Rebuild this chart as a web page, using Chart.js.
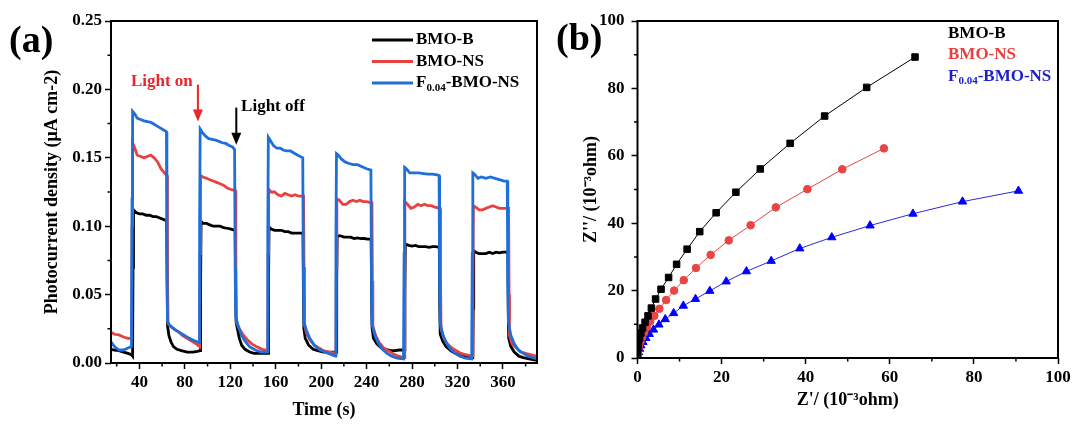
<!DOCTYPE html>
<html>
<head>
<meta charset="utf-8">
<script src="https://cdn.jsdelivr.net/npm/chart.js@4.4.1/dist/chart.umd.min.js"></script>
<style>
  html, body { margin: 0; padding: 0; background: #fff; }
  #wrap { position: relative; width: 1076px; height: 428px; overflow: hidden; }
  #chartA { position: absolute; left: 0; top: 0; }
  #chartB { position: absolute; left: 545px; top: 0; }
  .tag { position: absolute; font: bold 38px "Liberation Serif", "Times New Roman", serif; color: #000; }
</style>
</head>
<body>
<div id="wrap">
  <canvas id="chartA" width="545" height="428"></canvas>
  <canvas id="chartB" width="531" height="428"></canvas>
  <div class="tag" style="left:9px;top:17px">(a)</div>
  <div class="tag" style="left:556px;top:15px">(b)</div>
</div>
<script>
// ---- panel (a) : photocurrent vs time ----
const seriesNames = ['BMO-B', 'BMO-NS', 'F_0.04_-BMO-NS'];

const curveB = [
  [15,.010],[18,.0095],[22,.009],[26,.008],[30,.007],[33,.006],[34,.005],
  [34.4,.07],[34.8,.112],[37,.110],[40,.109],[43,.109],[46,.108],[49,.108],[52,.107],[55,.107],[58,.106],[61,.105],[64,.104],
  [64.4,.06],[64.8,.027],[66,.020],[68,.015],[70,.012],[73,.010],[77,.009],[82,.008],[87,.008],[91,.0085],[93.5,.009],
  [93.9,.06],[94.3,.1035],[96,.102],[99,.102],[102,.101],[105,.100],[108,.100],[111,.100],[114,.099],[117,.0985],[120,.098],[124.3,.097],
  [124.7,.06],[125.1,.030],[126,.026],[128,.018],[130,.013],[133,.010],[137,.008],[141,.007],[146,.007],[153.3,.007],
  [153.7,.06],[154.1,.0995],[156,.098],[159,.097],[162,.097],[165,.097],[168,.096],[171,.096],[174,.095],[177,.095],[180,.095],[184,.095],
  [184.4,.05],[184.8,.025],[186,.018],[189,.013],[193,.010],[197,.009],[202,.008],[207,.008],[213.3,.008],
  [213.7,.06],[214.1,.093],[217,.093],[220,.092],[223,.092],[226,.092],[229,.091],[232,.0915],[235,.091],[238,.091],[241,.0905],[244,.0905],
  [244.4,.05],[244.8,.026],[246,.018],[249,.014],[253,.011],[257,.010],[261,.009],[265,.009],[269,.0095],[273.3,.0095],
  [273.7,.05],[274.1,.087],[277,.086],[280,.0855],[283,.086],[286,.085],[289,.085],[292,.085],[295,.0845],[298,.085],[301,.085],[304,.0845],
  [304.4,.04],[304.8,.021],[307,.016],[310,.012],[314,.009],[318,.007],[322,.006],[327,.005],[333.5,.004],
  [333.9,.04],[334.3,.082],[336,.081],[339,.080],[342,.080],[345,.080],[348,.081],[351,.080],[354,.081],[357,.0805],[360,.081],[364.3,.081],
  [364.7,.04],[365.1,.018],[367,.012],[370,.008],[374,.005],[378,.004],[383,.003],[390,.002]
];

const curveNS = [
  [15,.0225],[18,.021],[22,.0205],[26,.019],[30,.018],[33.2,.018],
  [33.6,.10],[34,.161],[36,.157],[38,.152],[41,.151],[44,.150],[47,.151],[50,.152],[53,.150],[56,.147],[59,.142],[62,.139],[64.3,.137],
  [64.7,.07],[65.2,.029],[67,.027],[70,.025],[74,.023],[78,.020],[82,.018],[86,.016],[90,.014],[93,.012],
  [93.4,.08],[93.8,.137],[96,.136],[99,.135],[102,.134],[105,.133],[108,.132],[111,.131],[114,.130],[117,.128],[120,.127],[124.5,.126],
  [124.9,.07],[125.3,.030],[128,.025],[131,.021],[135,.017],[139,.014],[143,.012],[148,.010],[153,.009],
  [153.4,.08],[153.8,.127],[156,.125],[159,.125],[162,.123],[165,.122],[168,.124],[171,.123],[174,.122],[177,.123],[180,.122],[184.5,.122],
  [184.9,.07],[185.3,.028],[187,.022],[190,.017],[194,.013],[198,.011],[202,.009],[207,.008],[213,.007],
  [213.4,.07],[213.8,.120],[216,.119],[219,.116],[222,.116],[225,.118],[228,.119],[231,.118],[234,.119],[237,.118],[240,.118],[244.7,.117],
  [245.1,.06],[245.5,.027],[248,.020],[251,.015],[255,.011],[259,.009],[263,.007],[268,.005],[273,.004],
  [273.4,.06],[273.8,.118],[276,.116],[279,.113],[282,.114],[285,.116],[288,.115],[291,.116],[294,.115],[297,.115],[300,.114],[304.7,.113],
  [305.1,.06],[305.5,.025],[308,.018],[311,.014],[315,.011],[319,.009],[323,.007],[328,.006],[333.2,.005],
  [333.6,.06],[334,.115],[336,.114],[339,.112],[342,.112],[345,.113],[348,.114],[351,.115],[354,.114],[357,.113],[360,.113],[365,.113],
  [365.4,.05],[365.8,.020],[368,.014],[372,.011],[376,.008],[380,.007],[385,.006],[390,.005]
];

const curveF = [
  [15,.0155],[18,.012],[22,.0095],[26,.0095],[30,.011],[33,.012],
  [33.5,.12],[34,.184],[36,.182],[38,.179],[41,.178],[44,.177],[47,.1765],[50,.176],[53,.1745],[56,.173],[59,.1715],[62,.170],[63.8,.169],
  [64.2,.08],[64.7,.031],[66,.028],[69,.026],[72,.024],[76,.022],[80,.020],[84,.018],[88,.0165],[92.5,.015],
  [93,.10],[93.5,.171],[95,.169],[98,.166],[101,.164],[104,.1635],[107,.163],[110,.162],[113,.161],[116,.1605],[119,.159],[122,.158],[123.8,.156],
  [124.3,.07],[124.8,.034],[127,.027],[130,.020],[133,.016],[137,.012],[142,.0095],[147,.008],[152.5,.008],
  [153,.09],[153.5,.165],[155,.163],[158,.159],[161,.157],[164,.157],[167,.1555],[170,.155],[173,.155],[176,.1535],[179,.152],[183.8,.150],
  [184.3,.07],[184.8,.030],[187,.024],[190,.018],[194,.013],[198,.010],[203,.008],[208,.0065],[212.5,.005],
  [213,.09],[213.5,.153],[215,.152],[218,.149],[221,.147],[224,.146],[228,.145],[232,.145],[236,.1435],[240,.142],[243.8,.141],
  [244.3,.06],[244.8,.028],[247,.021],[250,.015],[254,.010],[258,.007],[262,.005],[267,.0035],[272.5,.003],
  [273,.08],[273.5,.143],[275,.142],[278,.139],[282,.139],[286,.139],[290,.1385],[294,.138],[298,.138],[302,.1375],[303.8,.137],
  [304.3,.06],[304.8,.029],[307,.021],[310,.015],[314,.010],[318,.007],[322,.005],[327,.0035],[332.5,.003],
  [333,.08],[333.5,.139],[335,.138],[338,.135],[341,.136],[345,.135],[349,.136],[353,.135],[357,.134],[361,.133],[363.8,.133],
  [364.3,.06],[364.8,.030],[367,.020],[370,.014],[374,.009],[378,.007],[382,.005],[386,.004],[390,.003]
];

const timeTicks = [40, 80, 120, 160, 200, 240, 280, 320, 360];
const timeMinor = [20, 60, 100, 140, 180, 220, 260, 300, 340, 380];
const currTicks = [0, 0.05, 0.10, 0.15, 0.20, 0.25];
const currMinor = [0.025, 0.075, 0.125, 0.175, 0.225];

// ---- panel (b) : Nyquist plot ----
const nyqB = [
  [0,1.5],[0.1,3.0],[0.25,4.4],[0.5,5.9],[0.8,7.4],[1.2,8.9],[1.8,10.6],[2.5,12.5],[3.3,14.8],[4.3,17.5],
  [5.6,20.4],[7.4,23.9],[9.3,27.8],[11.8,32.3],[14.8,37.5],[18.7,43.1],[23.4,49.2],[29.2,56.1],[36.3,63.7],
  [44.5,71.8],[54.5,80.3],[66.0,89.3]
];
const nyqNS = [
  [0,1.2],[0.15,2.3],[0.3,3.5],[0.7,4.8],[1.1,6.2],[1.6,7.6],[2.2,9.1],[3.0,10.8],[4.0,12.5],[5.2,14.6],
  [6.8,17.2],[8.7,20.0],[11.0,23.1],[13.9,26.7],[17.4,30.6],[21.7,34.9],[26.9,39.4],[32.9,44.7],[40.4,50.1],
  [48.7,56.0],[58.6,62.2]
];
const nyqF = [
  [0.1,0.7],[0.25,1.7],[0.5,2.7],[0.8,3.7],[1.3,4.7],[2.0,5.9],[2.8,7.1],[3.8,8.4],[5.1,9.9],[6.6,11.5],
  [8.6,13.3],[10.9,15.5],[13.8,17.5],[17.2,19.9],[21.1,22.7],[25.9,25.7],[31.8,28.8],[38.6,32.5],[46.2,35.8],
  [55.3,39.3],[65.5,42.8],[77.3,46.4],[90.6,49.6]
];
const zTicks = [0, 20, 40, 60, 80, 100];
const zMinor = [10, 30, 50, 70, 90];

const SERIF = '"Liberation Serif", "Times New Roman", serif';
const tickFont = { family: SERIF, size: 17, weight: 'bold' };
const titleFont = { family: SERIF, size: 18, weight: 'bold' };

function toXY(arr) {
  return arr.map(p => ({ x: p[0], y: p[1] }));
}

// text with _sub_ parts, e.g. F_0.04_-BMO-NS
function drawLabel(ctx, txt, x, y, size) {
  const parts = txt.split('_');
  let cx = x;
  parts.forEach((p, i) => {
    if (!p) return;
    const sub = i % 2 === 1;
    ctx.font = 'bold ' + (sub ? Math.round(size * 0.65) : size) + 'px ' + SERIF;
    ctx.fillText(p, cx, sub ? y + size * 0.3 : y);
    cx += ctx.measureText(p).width;
  });
}

// box round the plot + short minor ticks
const framePlugin = {
  id: 'frame',
  afterDraw(chart, args, opts) {
    const { ctx, chartArea: a, scales } = chart;
    ctx.save();
    ctx.strokeStyle = '#000';
    ctx.lineWidth = 1.5;
    ctx.beginPath();
    (opts.xMinor || []).forEach(v => {
      const px = scales.x.getPixelForValue(v);
      ctx.moveTo(px, a.bottom);
      ctx.lineTo(px, a.bottom + 3.5);
    });
    (opts.yMinor || []).forEach(v => {
      const py = scales.y.getPixelForValue(v);
      ctx.moveTo(a.left, py);
      ctx.lineTo(a.left - 3.5, py);
    });
    ctx.stroke();
    ctx.lineWidth = 2;
    ctx.strokeRect(a.left, a.top, a.right - a.left, a.bottom - a.top);
    ctx.restore();
  }
};

const legendA = {
  id: 'legendA',
  afterDraw(chart) {
    const { ctx, chartArea: a } = chart;
    ctx.save();
    ctx.textBaseline = 'middle';
    ctx.textAlign = 'left';
    chart.data.datasets.forEach((ds, i) => {
      const y = a.top + 19 + i * 21.5;
      const x0 = a.right - 165;
      ctx.strokeStyle = ds.borderColor;
      ctx.lineWidth = 2.8;
      ctx.beginPath();
      ctx.moveTo(x0, y);
      ctx.lineTo(x0 + 41, y);
      ctx.stroke();
      ctx.fillStyle = '#000';
      drawLabel(ctx, seriesNames[i], x0 + 44, y, 17);
    });
    ctx.restore();
  }
};

const arrowNotes = {
  id: 'arrowNotes',
  afterDatasetsDraw(chart) {
    const { ctx, scales: { x, y } } = chart;
    function arrow(t, v0, v1, color) {
      const px = x.getPixelForValue(t);
      const y0 = y.getPixelForValue(v0), y1 = y.getPixelForValue(v1);
      ctx.strokeStyle = color;
      ctx.fillStyle = color;
      ctx.lineWidth = 2;
      ctx.beginPath();
      ctx.moveTo(px, y0);
      ctx.lineTo(px, y1 - 10);
      ctx.stroke();
      ctx.beginPath();
      ctx.moveTo(px - 5, y1 - 12);
      ctx.lineTo(px + 5, y1 - 12);
      ctx.lineTo(px, y1);
      ctx.closePath();
      ctx.fill();
    }
    ctx.save();
    arrow(91.5, 0.2035, 0.1766, '#e8262b');
    arrow(125.3, 0.1867, 0.1596, '#000');
    ctx.font = 'bold 17px ' + SERIF;
    ctx.textBaseline = 'middle';
    ctx.fillStyle = '#e8262b';
    ctx.textAlign = 'right';
    ctx.fillText('Light on', x.getPixelForValue(87), y.getPixelForValue(0.206));
    ctx.fillStyle = '#000';
    ctx.textAlign = 'left';
    ctx.fillText('Light off', x.getPixelForValue(129.5), y.getPixelForValue(0.1877));
    ctx.restore();
  }
};

const legendB = {
  id: 'legendB',
  afterDraw(chart) {
    const { ctx, chartArea: a } = chart;
    ctx.save();
    ctx.textBaseline = 'middle';
    ctx.textAlign = 'left';
    const textColors = ['#000', '#e8403f', '#1f1fc8'];
    seriesNames.forEach((name, i) => {
      ctx.fillStyle = textColors[i];
      drawLabel(ctx, name, a.right - 110, a.top + 12.5 + i * 21.5, 17);
    });
    ctx.restore();
  }
};

function axisX(min, max, ticks, fmt, height, title, titlePad) {
  return {
    type: 'linear', min: min, max: max,
    afterBuildTicks: s => { s.ticks = ticks.map(v => ({ value: v })); },
    afterFit: s => { s.height = height; },
    ticks: { color: '#000', font: tickFont, padding: 3, maxRotation: 0, autoSkip: false, callback: fmt },
    grid: { drawOnChartArea: false, tickLength: 6, tickWidth: 1.5, tickColor: '#000' },
    border: { display: false },
    title: { display: true, text: title, color: '#000', font: titleFont, padding: { top: 0, bottom: titlePad } }
  };
}

function axisY(min, max, ticks, fmt, width, title, pad) {
  return {
    type: 'linear', min: min, max: max,
    afterBuildTicks: s => { s.ticks = ticks.map(v => ({ value: v })); },
    afterFit: s => { s.width = width; },
    ticks: { color: '#000', font: tickFont, padding: pad, autoSkip: false, callback: fmt },
    grid: { drawOnChartArea: false, tickLength: 6, tickWidth: 1.5, tickColor: '#000' },
    border: { display: false },
    title: { display: true, text: title, color: '#000', font: titleFont, padding: { top: 0, bottom: 0 } }
  };
}

new Chart(document.getElementById('chartA'), {
  type: 'line',
  data: {
    datasets: [
      { label: 'BMO-B', data: toXY(curveB), borderColor: '#000000', order: 2 },
      { label: 'BMO-NS', data: toXY(curveNS), borderColor: '#e8413f', order: 1 },
      { label: 'F0.04-BMO-NS', data: toXY(curveF), borderColor: '#1e6fd9', order: 0 }
    ]
  },
  options: {
    responsive: false,
    animation: false,
    elements: { line: { borderWidth: 2.8, tension: 0 }, point: { radius: 0 } },
    layout: { padding: { left: 42, right: 8, top: 21, bottom: 0 } },
    scales: {
      x: axisX(15, 390, timeTicks, v => v, 65, 'Time (s)', 7),
      y: axisY(0, 0.25, currTicks, v => v.toFixed(2), 69, 'Photocurrent density (μA cm-2)', 3)
    },
    plugins: {
      legend: { display: false },
      tooltip: { enabled: false },
      frame: { xMinor: timeMinor, yMinor: currMinor }
    }
  },
  plugins: [framePlugin, legendA, arrowNotes]
});

new Chart(document.getElementById('chartB'), {
  type: 'line',
  data: {
    datasets: [
      { label: 'BMO-B', data: toXY(nyqB), borderColor: '#000000', backgroundColor: '#000000',
        pointStyle: 'rect', pointRadius: 4.6, pointBackgroundColor: '#000000', pointBorderColor: '#000000' },
      { label: 'BMO-NS', data: toXY(nyqNS), borderColor: '#e84545', backgroundColor: '#e84545',
        pointStyle: 'circle', pointRadius: 3.8, pointBackgroundColor: '#e84545', pointBorderColor: '#e84545' },
      { label: 'F0.04-BMO-NS', data: toXY(nyqF), borderColor: '#2a2ad8', backgroundColor: '#0000ff',
        pointStyle: 'triangle', pointRadius: 4.8, pointBackgroundColor: '#0000ff', pointBorderColor: '#0000ff' }
    ]
  },
  options: {
    responsive: false,
    animation: false,
    elements: { line: { borderWidth: 1, tension: 0 }, point: { borderWidth: 1 } },
    layout: { padding: { left: 36, right: 18, top: 21, bottom: 0 } },
    scales: {
      x: axisX(0, 100, zTicks, v => v, 70, "Z'/ (10⁻³ohm)", 17),
      y: axisY(0, 100, zTicks, v => v, 56.5, "Z''/ (10⁻³ohm)", 7)
    },
    plugins: {
      legend: { display: false },
      tooltip: { enabled: false },
      frame: { xMinor: zMinor, yMinor: zMinor }
    }
  },
  plugins: [framePlugin, legendB]
});
</script>
</body>
</html>
